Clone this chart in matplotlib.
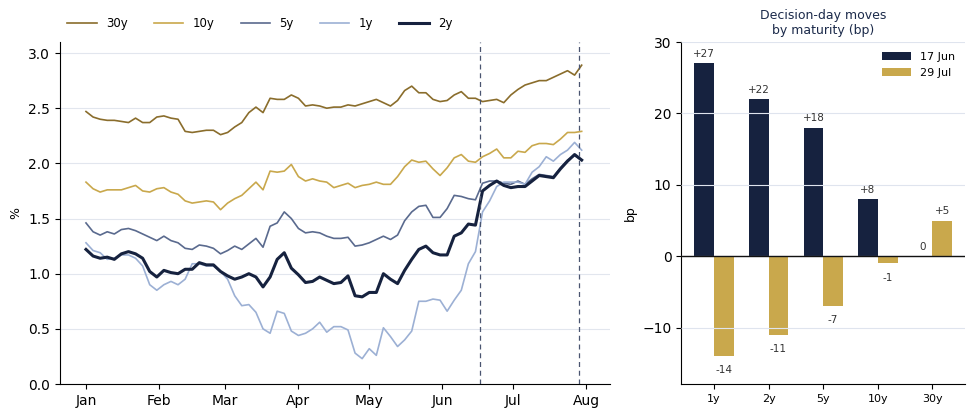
import matplotlib
matplotlib.use('Agg')
import matplotlib.pyplot as plt
import matplotlib.dates as mdates
import numpy as np
import pandas as pd

# yields (%), sampled every 3 days from 1 Jan
dates = pd.date_range('2025-01-01', periods=71, freq='3D')

y30 = [2.47, 2.42, 2.40, 2.39, 2.39, 2.38, 2.37, 2.41, 2.37, 2.37,
       2.42, 2.43, 2.41, 2.40, 2.29, 2.28, 2.29, 2.30, 2.30, 2.26,
       2.28, 2.33, 2.37, 2.46, 2.51, 2.46, 2.59, 2.58, 2.58, 2.62,
       2.59, 2.52, 2.53, 2.52, 2.50, 2.51, 2.51, 2.53, 2.52, 2.54,
       2.56, 2.58, 2.55, 2.52, 2.57, 2.66, 2.70, 2.64, 2.64, 2.58,
       2.56, 2.57, 2.62, 2.65, 2.59, 2.59, 2.56, 2.57, 2.58, 2.55,
       2.62, 2.67, 2.71, 2.73, 2.75, 2.75, 2.78, 2.81, 2.84, 2.80,
       2.89]
y10 = [1.83, 1.77, 1.74, 1.76, 1.76, 1.76, 1.78, 1.80, 1.75, 1.74,
       1.77, 1.78, 1.74, 1.72, 1.66, 1.64, 1.65, 1.66, 1.65, 1.58,
       1.64, 1.68, 1.71, 1.77, 1.83, 1.76, 1.93, 1.92, 1.93, 1.99,
       1.88, 1.84, 1.86, 1.84, 1.83, 1.78, 1.80, 1.82, 1.78, 1.80,
       1.81, 1.83, 1.81, 1.81, 1.88, 1.97, 2.03, 2.01, 2.02, 1.95,
       1.89, 1.96, 2.05, 2.08, 2.02, 2.01, 2.06, 2.09, 2.13, 2.05,
       2.05, 2.11, 2.10, 2.16, 2.18, 2.18, 2.17, 2.22, 2.28, 2.28,
       2.29]
y5 = [1.46, 1.38, 1.35, 1.38, 1.36, 1.40, 1.41, 1.39, 1.36, 1.33,
      1.30, 1.34, 1.30, 1.28, 1.23, 1.22, 1.26, 1.25, 1.23, 1.18,
      1.21, 1.25, 1.22, 1.27, 1.32, 1.24, 1.43, 1.46, 1.56, 1.50,
      1.41, 1.37, 1.38, 1.37, 1.34, 1.32, 1.32, 1.33, 1.25, 1.26,
      1.28, 1.31, 1.34, 1.31, 1.35, 1.48, 1.56, 1.61, 1.62, 1.51,
      1.51, 1.59, 1.71, 1.70, 1.68, 1.67, 1.82, 1.84, 1.84, 1.82,
      1.81, 1.84, 1.81, 1.86, 1.90, 1.89, 1.88, 1.96, 2.03, 2.07,
      2.03]
y1 = [1.28, 1.21, 1.19, 1.13, 1.14, 1.17, 1.17, 1.14, 1.07, 0.90,
      0.85, 0.90, 0.93, 0.90, 0.95, 1.09, 1.09, 1.07, 1.07, 1.02,
      0.95, 0.80, 0.71, 0.72, 0.65, 0.50, 0.46, 0.66, 0.64, 0.48,
      0.44, 0.46, 0.50, 0.56, 0.47, 0.52, 0.52, 0.49, 0.28, 0.23,
      0.32, 0.26, 0.51, 0.43, 0.34, 0.40, 0.48, 0.75, 0.75, 0.77,
      0.76, 0.66, 0.76, 0.85, 1.09, 1.20, 1.56, 1.66, 1.79, 1.83,
      1.83, 1.83, 1.81, 1.92, 1.97, 2.06, 2.02, 2.08, 2.12, 2.19,
      2.12]
y2 = [1.22, 1.16, 1.14, 1.15, 1.13, 1.18, 1.20, 1.18, 1.14, 1.02,
      0.97, 1.03, 1.01, 1.00, 1.04, 1.04, 1.10, 1.08, 1.08, 1.02,
      0.98, 0.95, 0.97, 1.00, 0.97, 0.88, 0.97, 1.13, 1.19, 1.05,
      0.99, 0.92, 0.93, 0.97, 0.94, 0.91, 0.92, 0.98, 0.80, 0.79,
      0.83, 0.83, 1.00, 0.95, 0.91, 1.03, 1.13, 1.22, 1.25, 1.19,
      1.17, 1.17, 1.34, 1.37, 1.45, 1.44, 1.75, 1.80, 1.84, 1.80,
      1.78, 1.79, 1.79, 1.84, 1.89, 1.88, 1.87, 1.95, 2.02, 2.08,
      2.03]

decision_days = ['2025-06-17', '2025-07-29']

# decision-day moves (bp)
maturities = ['1y', '2y', '5y', '10y', '30y']
move_jun = [27, 22, 18, 8, 0]
move_jul = [-14, -11, -7, -1, 5]

navy = '#16223f'
gold = '#c9a84c'

fig = plt.figure(figsize=(9.76, 4.18), dpi=100)
ax = fig.add_axes([0.0615, 0.0813, 0.5635, 0.8182])
ax2 = fig.add_axes([0.698, 0.0813, 0.291, 0.8182])

# --- left: yield lines
ax.plot(dates, y30, color='#8a6d2c', lw=1.2, label='30y')
ax.plot(dates, y10, color='#c9a84c', lw=1.2, label='10y')
ax.plot(dates, y5, color='#5a6a8e', lw=1.2, label='5y')
ax.plot(dates, y1, color='#9cb0d4', lw=1.2, label='1y')
ax.plot(dates, y2, color=navy, lw=2.2, label='2y')

for d in decision_days:
    ax.axvline(pd.Timestamp(d), color='#4a5570', ls='--', lw=0.9, dashes=(4, 3))

ax.set_ylim(0, 3.1)
ax.set_xlim(pd.Timestamp('2024-12-21'), pd.Timestamp('2025-08-11'))
ax.set_yticks([0, 0.5, 1.0, 1.5, 2.0, 2.5, 3.0])
ax.xaxis.set_major_locator(mdates.MonthLocator())
ax.xaxis.set_major_formatter(mdates.DateFormatter('%b'))
ax.set_ylabel('%', fontsize=9)
ax.grid(axis='y', color='#e2e6ee', lw=0.8)
ax.set_axisbelow(True)
ax.tick_params(labelsize=10)
for s in ['top', 'right']:
    ax.spines[s].set_visible(False)
ax.legend(loc='lower left', bbox_to_anchor=(0.0, 1.015), ncol=5, frameon=False,
          fontsize=8.5, handlelength=2.5, columnspacing=2.2, borderaxespad=0.2)

# --- right: grouped bars
x = np.arange(len(maturities))
w = 0.36
ax2.bar(x - w / 2, move_jun, w, color=navy, label='17 Jun')
ax2.bar(x + w / 2, move_jul, w, color=gold, label='29 Jul')

for xs, vals in [(x - w / 2, move_jun), (x + w / 2, move_jul)]:
    for xi, v in zip(xs, vals):
        txt = f'+{v}' if v > 0 else str(v)
        if v >= 0:
            ax2.text(xi, v + 0.6, txt, ha='center', va='bottom', fontsize=7.5, color='#333333')
        else:
            ax2.text(xi, v - 1.3, txt, ha='center', va='top', fontsize=7.5, color='#333333')

ax2.axhline(0, color='#111111', lw=1, zorder=5)
ax2.set_ylim(-17.9, 30)
ax2.set_xlim(-0.6, 4.6)
ax2.set_yticks([-10, 0, 10, 20, 30])
ax2.set_xticks(x)
ax2.set_xticklabels(maturities, fontsize=8)
ax2.tick_params(axis='y', labelsize=10)
ax2.set_ylabel('bp', fontsize=9)
ax2.grid(axis='y', color='#dfe4ee', lw=0.8)
ax2.set_axisbelow(False)
for s in ['top', 'right']:
    ax2.spines[s].set_visible(False)
ax2.set_title('Decision-day moves\nby maturity (bp)', fontsize=9, color='#1b2a4a', pad=6)
ax2.legend(loc='upper right', frameon=False, fontsize=8, handlelength=2.6)

fig.savefig('out.png', dpi=100)
